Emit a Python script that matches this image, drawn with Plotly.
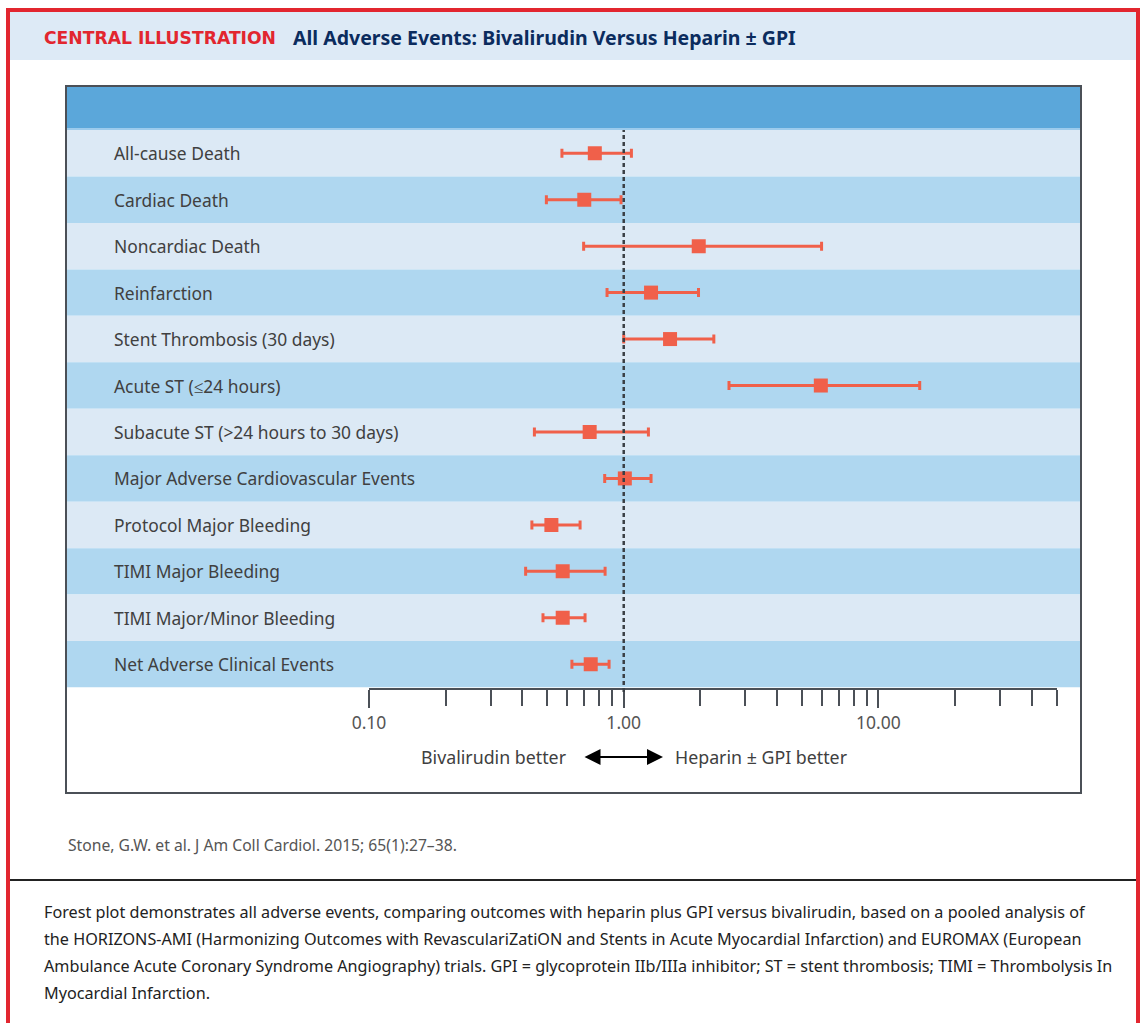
import numpy as np
import plotly.graph_objects as go

# ---- data: hazard/risk ratios with 95% CI (bivalirudin vs heparin ± GPI) ----
outcomes = [
    "All-cause Death",
    "Cardiac Death",
    "Noncardiac Death",
    "Reinfarction",
    "Stent Thrombosis (30 days)",
    "Acute ST (≤24 hours)",
    "Subacute ST (>24 hours to 30 days)",
    "Major Adverse Cardiovascular Events",
    "Protocol Major Bleeding",
    "TIMI Major Bleeding",
    "TIMI Major/Minor Bleeding",
    "Net Adverse Clinical Events",
]
ratio = [0.77, 0.70, 1.97, 1.28, 1.52, 5.94, 0.735, 1.01, 0.52, 0.576, 0.576, 0.742]
ci_low = [0.572, 0.497, 0.696, 0.86, 1.00, 2.59, 0.446, 0.842, 0.436, 0.412, 0.482, 0.626]
ci_high = [1.072, 0.976, 5.98, 1.966, 2.258, 14.52, 1.25, 1.28, 0.674, 0.845, 0.705, 0.876]

major_ticks = [0.1, 1, 10]
major_labels = ["0.10", "1.00", "10.00"]
minor_ticks = [0.2, 0.3, 0.4, 0.5, 0.6, 0.7, 0.8, 0.9,
               2, 3, 4, 5, 6, 7, 8, 9, 20, 30, 40, 50]

title_tag = "CENTRAL ILLUSTRATION"
title_text = "All Adverse Events: Bivalirudin Versus Heparin ± GPI"
left_dir = "Bivalirudin better"
right_dir = "Heparin ± GPI better"
citation = "Stone, G.W. et al. J Am Coll Cardiol. 2015; 65(1):27–38."
caption_lines = [
    "Forest plot demonstrates all adverse events, comparing outcomes with heparin plus GPI versus bivalirudin, based on a pooled analysis of",
    "the HORIZONS-AMI (Harmonizing Outcomes with RevasculariZatiON and Stents in Acute Myocardial Infarction) and EUROMAX (European",
    "Ambulance Acute Coronary Syndrome Angiography) trials. GPI = glycoprotein IIb/IIIa inhibitor; ST = stent thrombosis; TIMI = Thrombolysis In",
    "Myocardial Infarction.",
]

# ---- page geometry (pixels) ----
W, H = 1142, 1023
FONT = "Noto Sans"


def px(x):
    return x / W


def py(y):
    return 1 - y / H


n = len(outcomes)
ypos = [i + 0.5 for i in range(n)]
ratio_a = np.array(ratio)
err_plus = np.array(ci_high) - ratio_a
err_minus = ratio_a - np.array(ci_low)

RED = "#F0604A"

fig = go.Figure()
fig.add_trace(go.Scatter(
    x=ratio, y=ypos, mode="markers",
    marker=dict(symbol="square", size=14, color=RED, line=dict(width=0)),
    error_x=dict(type="data", symmetric=False, array=err_plus, arrayminus=err_minus,
                 color=RED, thickness=3, width=4.5),
    hoverinfo="skip", showlegend=False,
))

shapes = []
# outer red frame
shapes.append(dict(type="rect", xref="paper", yref="paper",
                   x0=px(8), x1=px(1138), y0=py(1030), y1=py(10),
                   line=dict(color="#E2262F", width=4), fillcolor="rgba(0,0,0,0)", layer="below"))
# title band
shapes.append(dict(type="rect", xref="paper", yref="paper",
                   x0=px(10), x1=px(1136), y0=py(60), y1=py(12),
                   line=dict(width=0), fillcolor="#DDEAF6", layer="below"))
# header strip of the forest panel
shapes.append(dict(type="rect", xref="paper", yref="paper",
                   x0=px(67), x1=px(1080), y0=py(128), y1=py(87),
                   line=dict(width=0), fillcolor="#5BA7DA", layer="below"))
shapes.append(dict(type="rect", xref="paper", yref="paper",
                   x0=px(67), x1=px(1080), y0=py(130), y1=py(128),
                   line=dict(width=0), fillcolor="#9CCBEC", layer="below"))
# alternating row bands
for i in range(n):
    shapes.append(dict(type="rect", xref="paper", yref="y",
                       x0=px(67), x1=px(1080), y0=i, y1=i + 1,
                       line=dict(width=0),
                       fillcolor="#DCE9F5" if i % 2 == 0 else "#AFD7F0",
                       layer="below"))
# panel border
shapes.append(dict(type="rect", xref="paper", yref="paper",
                   x0=px(66), x1=px(1081), y0=py(793), y1=py(86),
                   line=dict(color="#4B5057", width=2), fillcolor="rgba(0,0,0,0)"))
# line of no effect
shapes.append(dict(type="line", xref="x", yref="paper",
                   x0=1, x1=1, y0=py(692), y1=py(130),
                   line=dict(color="#3A3F45", width=2.5, dash="4px,3px")))
# separator above caption
shapes.append(dict(type="line", xref="paper", yref="paper",
                   x0=px(10), x1=px(1136), y0=py(880), y1=py(880),
                   line=dict(color="#222222", width=2)))

annotations = []
for i, name in enumerate(outcomes):
    annotations.append(dict(x=px(112), y=ypos[i], xref="paper", yref="y",
                            text=name, showarrow=False, xanchor="left", yanchor="middle",
                            font=dict(family=FONT, size=17.4, color="#404040")))

annotations.append(dict(x=px(42), y=py(38), xref="paper", yref="paper",
                        text="<b>" + title_tag + "</b>", showarrow=False,
                        xanchor="left", yanchor="middle",
                        font=dict(family="DejaVu Sans", size=17.2, color="#E2262F")))
annotations.append(dict(x=px(291), y=py(38), xref="paper", yref="paper",
                        text="<b>" + title_text + "</b>", showarrow=False,
                        xanchor="left", yanchor="middle",
                        font=dict(family=FONT, size=19.5, color="#0B2C5E")))

# direction labels and double arrow
annotations.append(dict(x=px(569), y=py(757), xref="paper", yref="paper",
                        text=left_dir, showarrow=False, xanchor="right", yanchor="middle",
                        font=dict(family=FONT, size=17.8, color="#404040")))
annotations.append(dict(x=px(673), y=py(757), xref="paper", yref="paper",
                        text=right_dir, showarrow=False, xanchor="left", yanchor="middle",
                        font=dict(family=FONT, size=17.8, color="#404040")))
annotations.append(dict(x=px(663), y=py(757), ax=-80, ay=0,
                        xref="paper", yref="paper", axref="pixel", ayref="pixel",
                        text="", showarrow=True, arrowhead=2, arrowside="end+start",
                        arrowsize=1.6, arrowwidth=2, arrowcolor="#000000"))

annotations.append(dict(x=px(66), y=py(845), xref="paper", yref="paper",
                        text=citation, showarrow=False, xanchor="left", yanchor="middle",
                        font=dict(family=FONT, size=15.7, color="#555555")))
for k, line in enumerate(caption_lines):
    annotations.append(dict(x=px(42), y=py(912 + 27 * k), xref="paper", yref="paper",
                            text=line, showarrow=False, xanchor="left", yanchor="middle",
                            font=dict(family=FONT, size=16.2, color="#222222")))

fig.update_layout(
    width=W, height=H,
    margin=dict(l=0, r=0, t=0, b=0, pad=0, autoexpand=False),
    paper_bgcolor="white", plot_bgcolor="rgba(0,0,0,0)",
    shapes=shapes, annotations=annotations, showlegend=False,
    xaxis=dict(
        type="log", domain=[px(369), px(1056.5)],
        range=[-1, np.log10(50)], automargin=False,
        tickmode="array", tickvals=major_ticks, ticktext=major_labels,
        ticks="outside", ticklen=18, tickwidth=2, tickcolor="#4B5057",
        showline=True, linecolor="#4B5057", linewidth=2,
        showgrid=False, zeroline=False,
        minor=dict(tickmode="array", tickvals=minor_ticks, ticks="outside",
                   ticklen=16, tickwidth=2, tickcolor="#4B5057", showgrid=False),
        tickfont=dict(family=FONT, size=17.5, color="#555555"),
        fixedrange=True,
    ),
    yaxis=dict(
        domain=[py(687.5), py(130)], range=[n, 0], automargin=False,
        showticklabels=False, showgrid=False, zeroline=False, showline=False,
        ticks="", fixedrange=True,
    ),
)

fig.write_html("out.html")
